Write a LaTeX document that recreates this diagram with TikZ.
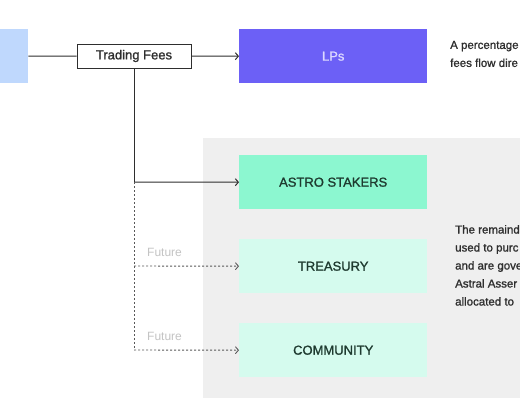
\documentclass[tikz,border=0pt]{standalone}
\usepackage{fontspec}
\setmainfont{Liberation Sans}
\newfontfamily\medfont[FakeBold=1.2]{Liberation Sans}
\usetikzlibrary{arrows.meta}
\definecolor{leftblue}{HTML}{BFD8FD}
\definecolor{lpviolet}{HTML}{6C60F6}
\definecolor{lptext}{HTML}{DCD8FF}
\definecolor{mint}{HTML}{8CF7D0}
\definecolor{palemint}{HTML}{D5FBEE}
\definecolor{panelgray}{HTML}{EFEFEF}
\definecolor{inkdark}{HTML}{2E2E2E}
\definecolor{greendark}{HTML}{1E3A2F}
\definecolor{futuregray}{HTML}{C4C4C4}
\tikzset{
  bigbox/.style={draw=none, minimum width=188pt, minimum height=54pt, inner sep=0pt, font=\medfont\fontsize{13}{15}\selectfont},
  feebox/.style={draw=inkdark, line width=0.9pt, fill=white, minimum width=114pt, minimum height=24pt, inner sep=0pt, font=\medfont\fontsize{13}{15}\selectfont, text=inkdark},
  solidflow/.style={draw=inkdark, line width=1pt},
  dotflow/.style={draw=inkdark!80, line width=0.9pt, dash pattern=on 2pt off 2pt},
  tip/.style={-{Straight Barb[length=3pt,width=7pt]}},
  sidetext/.style={anchor=west, font=\medfont\fontsize{11.5}{18}\selectfont, text=inkdark, align=left, inner sep=0pt},
  futurelabel/.style={anchor=west, font=\fontsize{12}{14}\selectfont, text=futuregray, inner sep=0pt}
}
\begin{document}
\begin{tikzpicture}[x=1pt,y=-1pt]
\useasboundingbox (0,0) rectangle (520,400);
\fill[white] (0,0) rectangle (520,400);
% gray panel
\fill[panelgray] (203,138) rectangle (520,398);
% boxes
\node[bigbox, fill=leftblue, minimum width=28pt, anchor=north west] (pool) at (0,29) {};
\node[feebox] (fees) at (134,56) {Trading Fees};
\node[bigbox, fill=lpviolet, text=lptext, anchor=north west] (lps) at (239,29) {LPs};
\node[bigbox, fill=mint, text=greendark, anchor=north west] (stakers) at (239,155) {ASTRO STAKERS};
\node[bigbox, fill=palemint, text=greendark, anchor=north west] (treasury) at (239,239) {TREASURY};
\node[bigbox, fill=palemint, text=greendark, anchor=north west] (community) at (239,323) {COMMUNITY};
% side texts
\node[sidetext] (lptext) at (450,54) {A percentage\\fees flow dire};
\node[sidetext, anchor=north west] (resttext) at (455,225) {The remaind\\used to purc\\and are gove\\Astral Asser\\allocated to};
% future labels
\node[futurelabel] (fut1) at (147,252) {Future};
\node[futurelabel] (fut2) at (147,336) {Future};
% connectors
\coordinate (split) at (134,182);
\coordinate (tbend) at (134,266);
\coordinate (cbend) at (134,350);
\draw[solidflow] (pool.east) -- (fees.west);
\draw[solidflow, tip] (fees.east) -- (lps.west);
\draw[solidflow] (fees.south) -- (split);
\draw[solidflow, tip] (split) -- (stakers.west);
\draw[dotflow] (split) -- (cbend);
\draw[dotflow, tip] (tbend) -- (treasury.west);
\draw[dotflow, tip] (cbend) -- (community.west);
\end{tikzpicture}
\end{document}
